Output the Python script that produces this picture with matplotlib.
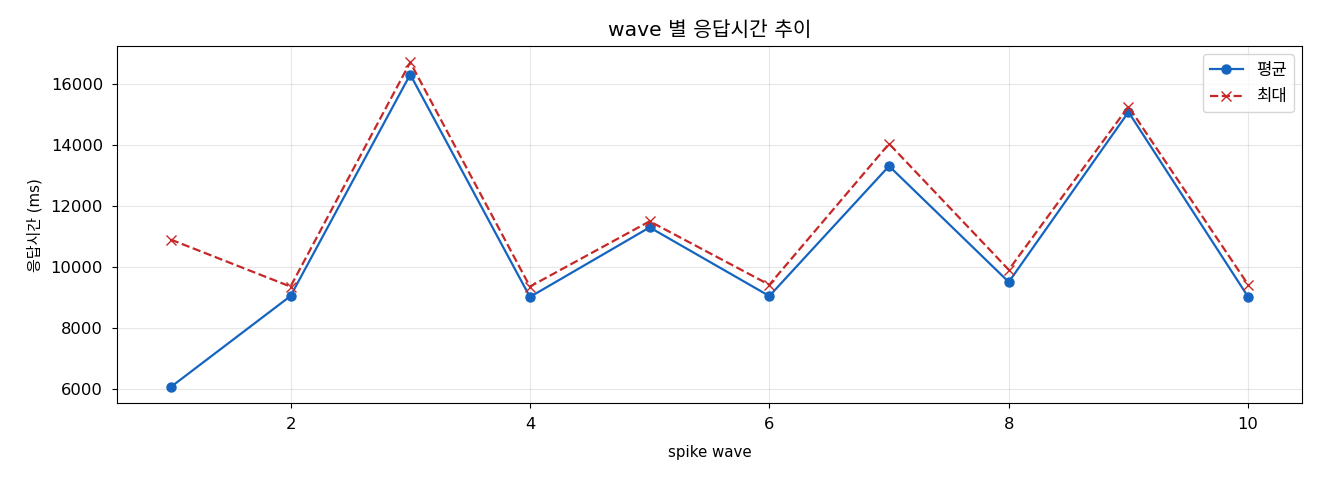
import matplotlib
matplotlib.use("Agg")
import matplotlib.pyplot as plt

plt.rcParams['font.family'] = ['DejaVu Sans', 'Noto Sans CJK KR']
plt.rcParams['axes.unicode_minus'] = False

waves = [1, 2, 3, 4, 5, 6, 7, 8, 9, 10]
avg_ms = [6070, 9050, 16310, 9020, 11300, 9050, 13310, 9510, 15080, 9020]
max_ms = [10900, 9360, 16710, 9360, 11500, 9420, 14040, 9910, 15260, 9420]

fig = plt.figure(figsize=(13.2, 4.8), dpi=100)
ax = fig.add_axes([0.0886, 0.160, 0.8978, 0.744])

ax.plot(waves, avg_ms, marker='o', color='#1565C0', linewidth=1.6, markersize=6.5, label='평균')
ax.plot(waves, max_ms, marker='x', linestyle='--', color='#C62828', linewidth=1.6, markersize=7, label='최대')

ax.set_title('wave 별 응답시간 추이', fontsize=14.6, pad=7)
ax.set_xlabel('spike wave', fontsize=10.8, labelpad=9)
ax.set_ylabel('응답시간 (ms)', fontsize=10.8, labelpad=6)
ax.tick_params(labelsize=11.8, pad=6.5)
ax.grid(True, alpha=0.3)
ax.legend(loc='upper right', fontsize=12)

fig.savefig('out.png', dpi=100)
